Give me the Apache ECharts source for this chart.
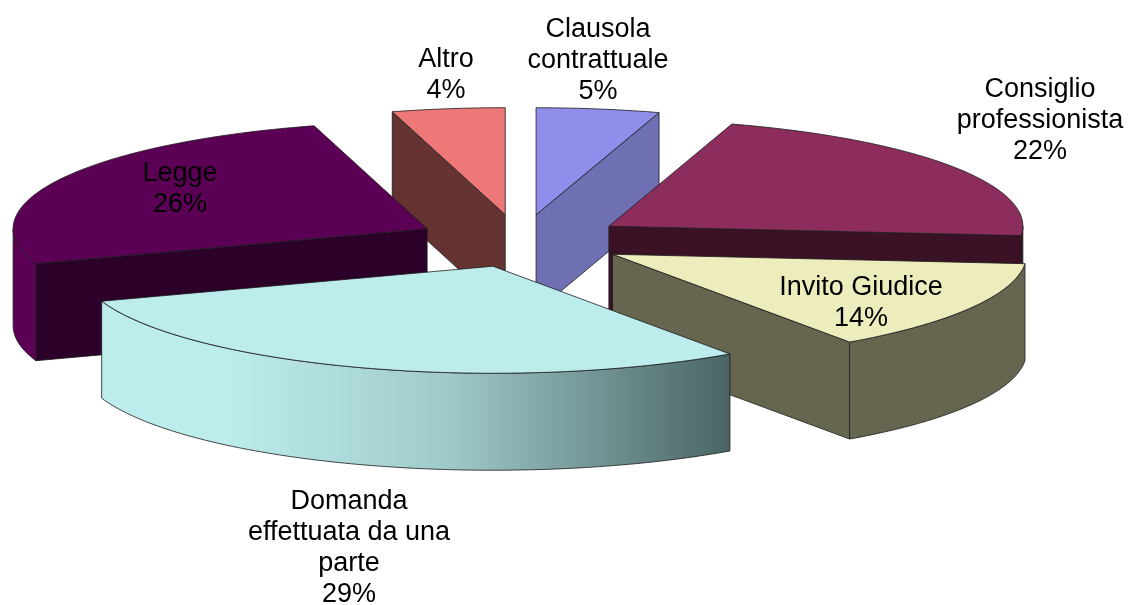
<!DOCTYPE html>
<html>
<head>
<meta charset="utf-8">
<style>html,body{margin:0;padding:0;background:#fff}#c{width:1128px;height:605px}</style>
<script src="https://cdn.jsdelivr.net/npm/echarts@6/dist/echarts.min.js"></script>
</head>
<body>
<div id="c"></div>
<script>
// data, clockwise from 12 o'clock
var categories = ['Clausola contrattuale', 'Consiglio professionista', 'Invito Giudice', 'Domanda effettuata da una parte', 'Legge', 'Altro'];
var values = [4.8, 21.6, 13.9, 29.4, 25.9, 4.4];
var labelLines = [['Clausola', 'contrattuale'], ['Consiglio', 'professionista'], ['Invito Giudice'], ['Domanda', 'effettuata da una', 'parte'], ['Legge'], ['Altro']];

// styles
var topColors = ['#8F8FEB', '#8C2D5E', '#ECECBD', '#BCECEC', '#5C0055', '#EE7777'];
var cutColors = ['#6F6FB4', '#3B1225', '#666650', '#BCECEC', '#2B0029', '#663333'];
var wallColors = ['#6F6FB4', '#3B1225', '#666650', '#BCECEC', '#5C0055', '#663333'];
var drawOrder = [0, 5, 1, 4, 2, 3];
var labelAnchor = [[598, 61], [1040, 121], [861, 303], [349, 548.5], [180, 189], [446, 75]];

// projection
var cx = 520, cy = 241, explode = 107, explodeTilt = 0.248, R = 414, ry = 107, depth = 97;
var sliceShiftX = [0, 0, 0, 6, 2, 0];
var RAD = Math.PI / 180;
var total = values.reduce(function (a, b) { return a + b; }, 0);

function arc(ax, ay, a0, a1, dy) {
  var pts = [], n = Math.max(2, Math.ceil(Math.abs(a1 - a0)));
  for (var i = 0; i <= n; i++) {
    var a = (a0 + (a1 - a0) * i / n) * RAD;
    pts.push([ax + R * Math.sin(a), ay - ry * Math.cos(a) + dy]);
  }
  return pts;
}
function poly(points, fill, z2) {
  return { type: 'polygon', shape: { points: points }, z2: z2,
    style: { fill: fill, stroke: '#1c1c1c', lineWidth: 0.8, lineJoin: 'round' } };
}
function wallFill(i) {
  if (i !== 3) return wallColors[i];
  return new echarts.graphic.LinearGradient(0, 0, 1, 0, [
    { offset: 0, color: '#BCECEC' }, { offset: 0.2, color: '#BCECEC' },
    { offset: 0.55, color: '#A0CACA' }, { offset: 1, color: '#4A6464' }
  ]);
}

function renderItem(params, api) {
  var i = params.dataIndex, before = 0;
  for (var k = 0; k < i; k++) before += values[k];
  var a0 = before / total * 360, a1 = (before + api.value(0)) / total * 360;
  var m = (a0 + a1) / 2 * RAD;
  var ax = cx + explode * Math.sin(m) + sliceShiftX[i];
  var ay = cy - explode * explodeTilt * Math.cos(m);
  var base = drawOrder.indexOf(i) * 10;
  var kids = [];
  function cut(a, fill, z) {
    var r = a * RAD, ox = ax + R * Math.sin(r), oy = ay - ry * Math.cos(r);
    kids.push(poly([[ax, ay], [ox, oy], [ox, oy + depth], [ax, ay + depth]], fill, base + z));
  }
  if (Math.sin(a0 * RAD) < -1e-6) cut(a0, cutColors[i], 2);
  if (Math.sin(a1 * RAD) > 1e-6) cut(a1, cutColors[i], 2);
  var w0 = Math.max(a0, 90), w1 = Math.min(a1, 270);
  if (w1 > w0) {
    var up = arc(ax, ay, w0, w1, 0), down = arc(ax, ay, w1, w0, depth);
    kids.push(poly(up.concat(down), wallFill(i), base + 3));
  }
  kids.push(poly([[ax, ay]].concat(arc(ax, ay, a0, a1, 0)), topColors[i], base + 4));
  var pct = Math.round(api.value(0) / total * 100) + '%';
  kids.push({ type: 'text', z2: 200, style: {
    x: labelAnchor[i][0], y: labelAnchor[i][1], text: labelLines[i].concat(pct).join('\n'),
    align: 'center', verticalAlign: 'middle', fill: '#000', lineHeight: 31,
    font: '27px "Liberation Sans", Arial, sans-serif' } });
  return { type: 'group', children: kids };
}

var chart = echarts.init(document.getElementById('c'), null, { renderer: 'canvas' });
chart.setOption({
  animation: false,
  backgroundColor: '#fff',
  series: [{ type: 'custom', coordinateSystem: 'none', renderItem: renderItem,
    silent: true, data: values.map(function (v, i) { return { name: categories[i], value: [v] }; }) }]
});
</script>
</body>
</html>
